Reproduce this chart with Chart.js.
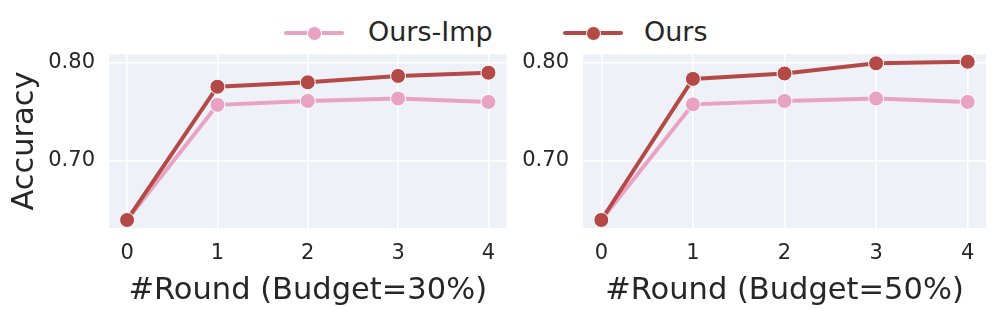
<!DOCTYPE html>
<html>
<head>
<meta charset="utf-8">
<script src="https://cdn.jsdelivr.net/npm/chart.js@4.4.1/dist/chart.umd.min.js"></script>
<style>
  html, body { margin: 0; padding: 0; background: #ffffff; }
  body { width: 996px; height: 309px; position: relative; overflow: hidden; font-family: "DejaVu Sans", sans-serif; }
  .panel { position: absolute; top: 0; height: 309px; }
  #legend { position: absolute; top: 0; left: 0; width: 996px; height: 50px; }
  .lg-line { position: absolute; height: 4px; border-radius: 2px; }
  .lg-dot { position: absolute; width: 15px; height: 15px; border-radius: 50%; box-sizing: border-box; border: 1px solid #ffffff; }
  .lg-text { position: absolute; font-size: 27px; color: #262626; line-height: 32px; white-space: nowrap; }
</style>
</head>
<body>
<div id="legend"></div>
<div class="panel" style="left:0;width:515px;"><canvas id="c1"></canvas></div>
<div class="panel" style="left:515px;width:481px;"><canvas id="c2"></canvas></div>
<script>
// ---- data ----
const rounds = [0, 1, 2, 3, 4];
const roundLabels = ['0', '1', '2', '3', '4'];
const seriesNames = ['Ours-Imp', 'Ours'];
const impBudget30 = [0.6395, 0.757, 0.761, 0.7635, 0.760];
const oursBudget30 = [0.6395, 0.7755, 0.780, 0.7865, 0.7898];
const impBudget50 = [0.6395, 0.7575, 0.761, 0.7635, 0.760];
const oursBudget50 = [0.6395, 0.7835, 0.789, 0.7994, 0.801];
const yTickValues = [0.70, 0.80];
const xTitles = ['#Round (Budget=30%)', '#Round (Budget=50%)'];
const yTitle = 'Accuracy';

// ---- styles ----
const PINK = '#e8a3c3';
const RED = '#b44a48';
const BG = '#eef1f7';
const TEXT = '#262626';
const FONT = '"DejaVu Sans", sans-serif';

// legend (HTML)
(function buildLegend() {
  const lg = document.getElementById('legend');
  const items = [
    { name: seriesNames[0], color: PINK, x0: 284, textX: 368 },
    { name: seriesNames[1], color: RED, x0: 563, textX: 644 }
  ];
  items.forEach(it => {
    const line = document.createElement('div');
    line.className = 'lg-line';
    line.style.left = it.x0 + 'px'; line.style.top = '31px'; line.style.width = '60px';
    line.style.background = it.color;
    lg.appendChild(line);
    const dot = document.createElement('div');
    dot.className = 'lg-dot';
    dot.style.left = (it.x0 + 30 - 7.5) + 'px'; dot.style.top = '25.5px';
    dot.style.background = it.color;
    lg.appendChild(dot);
    const t = document.createElement('div');
    t.className = 'lg-text';
    t.style.left = it.textX + 'px'; t.style.top = '16px';
    t.textContent = it.name;
    lg.appendChild(t);
  });
})();

const bgPlugin = {
  id: 'plotBg',
  beforeDraw(chart) {
    const { ctx, chartArea: a } = chart;
    ctx.save();
    ctx.fillStyle = BG;
    ctx.fillRect(a.left, a.top, a.right - a.left, a.bottom - a.top);
    ctx.restore();
  }
};

function toPoints(vals) { return rounds.map((r, i) => ({ x: r, y: vals[i] })); }

function makeChart(id, imp, ours, xTitle, showYTitle, yAxisWidth, padRight) {
  const ds = (label, vals, color, order) => ({
    label, data: toPoints(vals), borderColor: color, backgroundColor: color,
    borderWidth: 4, pointRadius: 7.5, pointHoverRadius: 7.5,
    pointBorderColor: '#ffffff', pointBorderWidth: 1, pointBackgroundColor: color,
    tension: 0, order, clip: false
  });
  return new Chart(document.getElementById(id), {
    type: 'line',
    data: { datasets: [ds(seriesNames[0], imp, PINK, 2), ds(seriesNames[1], ours, RED, 1)] },
    options: {
      responsive: true, maintainAspectRatio: false, animation: false,
      events: [],
      layout: { padding: { top: 54, right: padRight, bottom: 0, left: 0 } },
      plugins: { legend: { display: false }, tooltip: { enabled: false } },
      scales: {
        x: {
          type: 'linear', min: -0.2, max: 4.2,
          afterBuildTicks: s => { s.ticks = rounds.map(v => ({ value: v })); },
          afterFit: s => { s.height = 81; },
          grid: { color: '#ffffff', lineWidth: 1.5, drawTicks: false },
          border: { display: false },
          ticks: { color: TEXT, font: { family: FONT, size: 21 }, padding: 13,
                   maxRotation: 0, callback: v => roundLabels[rounds.indexOf(v)] },
          title: { display: true, text: xTitle, color: TEXT, font: { family: FONT, size: 30.5 }, padding: { top: 9, bottom: 0 } }
        },
        y: {
          type: 'linear', min: 0.6313, max: 0.8089,
          afterBuildTicks: s => { s.ticks = yTickValues.map(v => ({ value: v })); },
          afterFit: s => { s.width = yAxisWidth; },
          grid: { color: '#ffffff', lineWidth: 1.5, drawTicks: false },
          border: { display: false },
          ticks: { color: TEXT, font: { family: FONT, size: 21 }, padding: 14, callback: v => v.toFixed(2) },
          title: { display: showYTitle, text: yTitle, color: TEXT, font: { family: FONT, size: 30.5 }, padding: { top: 6.5, bottom: 0 } }
        }
      }
    },
    plugins: [bgPlugin]
  });
}

makeChart('c1', impBudget30, oursBudget30, xTitles[0], true, 109, 4);
makeChart('c2', impBudget50, oursBudget50, xTitles[1], false, 68, 10);
</script>
</body>
</html>
